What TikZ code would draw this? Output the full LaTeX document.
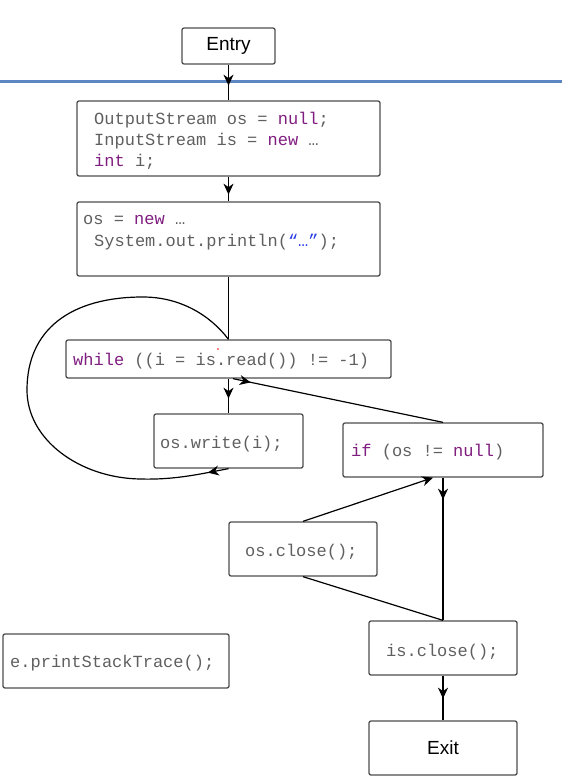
\documentclass[tikz,border=0pt]{standalone}
\usepackage{fontspec}
\setmonofont{Liberation Mono}
\newfontfamily\lsans{Liberation Sans}
\usetikzlibrary{arrows.meta,decorations.markings,calc}
\definecolor{codegray}{RGB}{95,95,95}
\definecolor{kw}{RGB}{127,30,127}
\definecolor{strblue}{RGB}{42,60,230}
\definecolor{bordergray}{RGB}{77,77,77}
\definecolor{sepblue}{RGB}{91,134,193}
\tikzset{
  box/.style={draw=bordergray, line width=1.3pt, rounded corners=2pt, inner sep=0pt},
  code/.style={anchor=base west, inner sep=0pt, font=\fontsize{17}{21}\selectfont\ttfamily, text=codegray},
  sanslbl/.style={inner sep=0pt, font=\fontsize{19}{23}\selectfont\lsans, text=black},
  conn/.style={line width=1.2pt, draw=black},
  tipat/.style={postaction={decorate}, decoration={markings, mark=at position #1 with {\arrow{Stealth[length=11pt,width=10pt,inset=3.5pt]}}}},
  endtip/.style={-{Stealth[length=11pt,width=10pt,inset=3.5pt]}},
}
\newcommand{\kwd}[1]{\textcolor{kw}{#1}}
\begin{document}
\begin{tikzpicture}[x=1pt,y=-1pt]
\useasboundingbox (0,0) rectangle (562,784);
% separator
\draw[sepblue, line width=3pt] (0,81) -- (562,81);
% boxes
\node[box, minimum width=93pt, minimum height=36pt] (entry) at (228.5,46) {};
\node[box, minimum width=303pt, minimum height=75pt] (b1) at (228.5,138.5) {};
\node[box, minimum width=303pt, minimum height=74pt] (b2) at (228.5,239) {};
\node[box, minimum width=325pt, minimum height=38pt] (wh) at (228.5,359) {};
\node[box, minimum width=149pt, minimum height=54pt] (wr) at (228.5,441) {};
\node[box, minimum width=200pt, minimum height=54pt] (ifn) at (443,450) {};
\node[box, minimum width=148pt, minimum height=54pt] (oc) at (303,549) {};
\node[box, minimum width=148pt, minimum height=54pt] (ic) at (443,648) {};
\node[box, minimum width=148pt, minimum height=54pt] (ex) at (443,748) {};
\node[box, minimum width=226pt, minimum height=54pt] (ep) at (116,661) {};
% texts
\node[sanslbl] (tentry) at (entry.center) {Entry};
\node[sanslbl] (texit) at (ex.center) {Exit};
\node[code] (t1a) at (94,124) {OutputStream os = \kwd{null};};
\node[code] (t1b) at (94,145) {InputStream is = \kwd{new} …};
\node[code] (t1c) at (94,166) {\kwd{int} i;};
\node[code] (t2a) at (83,224) {os = \kwd{new} …};
\node[code] (t2b) at (94,246) {System.out.println(\textcolor{strblue}{“…”});};
\node[code] (twh) at (73,365) {\kwd{while} ((i = is.read()) != -1)};
\node[code] (twr) at (160,448) {os.write(i);};
\node[code] (tif) at (351,456) {\kwd{if} (os != \kwd{null})};
\node[code] (toc) at (245,556) {os.close();};
\node[code] (tic) at (386,656) {is.close();};
\node[code] (tep) at (10,667) {e.printStackTrace();};
% stray mark
\fill[red] (218,349) circle[radius=0.8pt];
% connectors
\draw[conn, tipat=21pt] (entry.south) -- (b1.north);
\draw[conn, tipat=18pt] (b1.south) -- (b2.north);
\draw[conn] (b2.south) -- (wh.north);
\draw[conn, tipat=20pt] (wh.south) -- (wr.north);
\draw[conn, tipat=18pt] ($(wh.south)+(4.5,0)$) -- (ifn.north);
\draw[conn, tipat=21pt] (wr.south)
  .. controls (200,474) and (175,480) .. (140,479)
  .. controls (80,478) and (27,440) .. (27,390)
  .. controls (27,330) and (70,297) .. (143,297)
  .. controls (180,297) and (210,315) .. (wh.north);
\draw[conn, endtip] (oc.north) -- ($(ifn.south)+(-10,0)$);
\draw[conn, tipat=22pt] (ifn.south) -- (ic.north);
\draw[conn] (oc.south) -- (ic.north);
\draw[conn, tipat=23pt] (ic.south) -- (ex.north);
\end{tikzpicture}
\end{document}
